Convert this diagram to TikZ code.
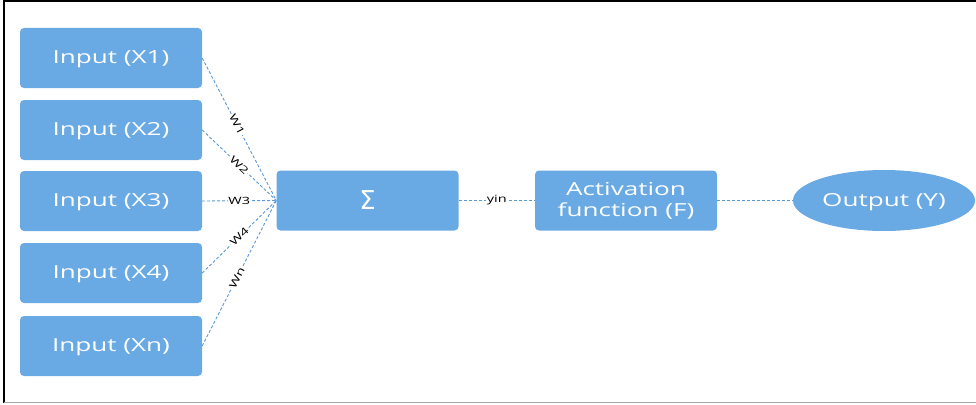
\documentclass[tikz,border=0pt]{standalone}
\usepackage{fontspec}
\setmainfont{Open Sans}[FakeStretch=1.45]
\newfontfamily\symfont{DejaVu Sans}
\usetikzlibrary{shapes.geometric}
\definecolor{boxblue}{RGB}{106,170,228}
\definecolor{wireblue}{RGB}{92,152,210}
\tikzset{
  unitbox/.style={draw=none, fill=boxblue, rounded corners=4pt, minimum width=182pt,
    minimum height=60pt, text=white, font=\fontsize{18}{21}\selectfont, align=center},
  oneline/.style={text height=15pt, text depth=4pt},
  outbox/.style={ellipse, draw=none, fill=boxblue, minimum width=182pt,
    minimum height=61pt, inner sep=0pt, text=white, font=\fontsize{18}{21}\selectfont},
  wire/.style={draw=wireblue, line width=0.9pt, densely dashed},
  wlabel/.style={fill=white, inner sep=0.5pt, text=black, font=\fontsize{10}{11}\selectfont},
}
\begin{document}
\begin{tikzpicture}[x=1pt,y=-1pt]
\useasboundingbox (0,0) rectangle (976,404);
% frame
\draw[black, line width=1.2pt] (976,1) -- (4,1) -- (4,403);
\draw[gray!70, line width=1.2pt] (4,402.5) -- (976,402.5);

% inputs
\node[unitbox, oneline] (x1) at (111,58) {Input (X1)};
\node[unitbox, oneline] (x2) at (111,130) {Input (X2)};
\node[unitbox, oneline] (x3) at (111,201) {Input (X3)};
\node[unitbox, oneline] (x4) at (111,273) {Input (X4)};
\node[unitbox, oneline] (xn) at (111,346) {Input (Xn)};

% summation, activation, output
\node[unitbox, font={\symfont\fontsize{26}{28}\selectfont}] (sum) at (367.5,200.5) {Σ};
\node[unitbox] (act) at (626,200.5) {Activation\\function (F)};
\node[outbox, oneline] (out) at (884,200.5) {Output (Y)};

% weighted connections
\draw[wire] (x1.east) -- (sum.west) node[pos=0.47, sloped, wlabel] {W1};
\draw[wire] (x2.east) -- (sum.west) node[pos=0.5, sloped, wlabel] {W2};
\draw[wire] (x3.east) -- (sum.west) node[midway, sloped, wlabel] {W3};
\draw[wire] (x4.east) -- (sum.west) node[pos=0.5, sloped, wlabel] {W4};
\draw[wire] (xn.east) -- (sum.west) node[pos=0.47, sloped, wlabel] {Wn};
\draw[wire] (sum.east) -- (act.west) node[pos=0.5, wlabel] {yin};
\draw[wire] (act.east) -- (out.west);
\end{tikzpicture}
\end{document}
